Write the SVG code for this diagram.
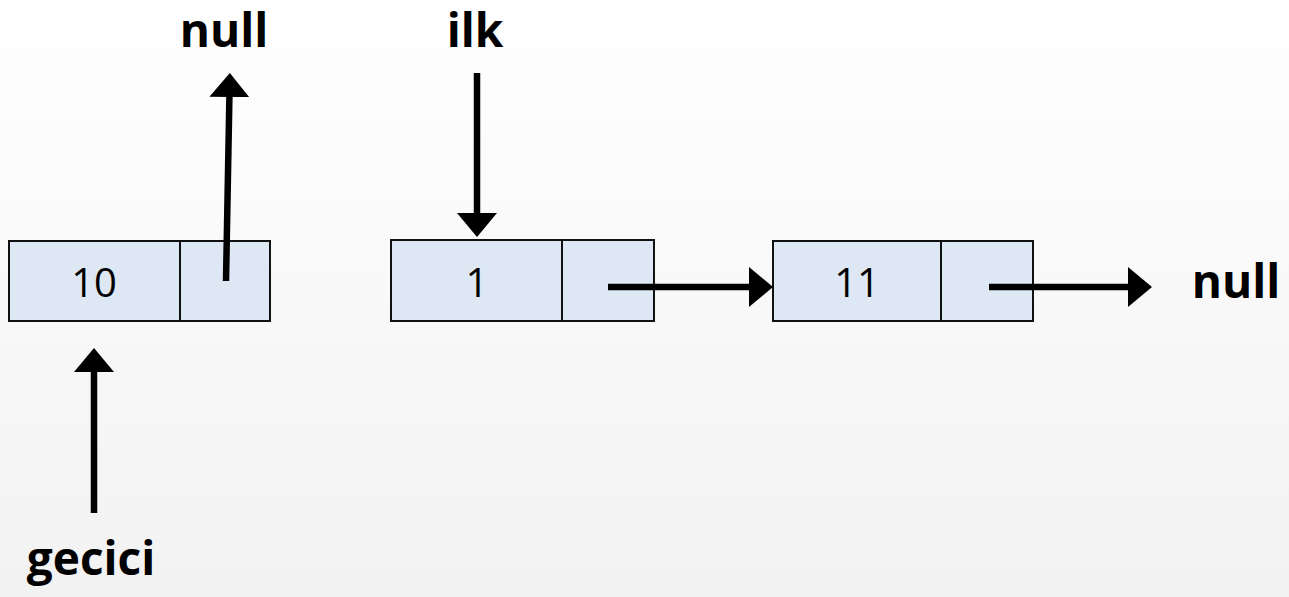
<svg xmlns="http://www.w3.org/2000/svg" width="1289" height="597" viewBox="0 0 1289 597">
<defs>
<linearGradient id="bg" x1="0" y1="0" x2="0" y2="1">
<stop offset="0" stop-color="#ffffff"/>
<stop offset="1" stop-color="#f2f2f2"/>
</linearGradient>
<marker id="ah" viewBox="0 0 24 40" refX="0" refY="20" markerWidth="24" markerHeight="40" markerUnits="userSpaceOnUse" orient="auto">
<path d="M0,0 L24,20 L0,40 z" fill="#000"/>
</marker>
</defs>
<style>
.cell{fill:#dde8f4;stroke:#111;stroke-width:2}
.val{font-family:"Open Sans","Liberation Sans",sans-serif;font-size:40px;fill:#000;text-anchor:middle}
.lbl{font-family:"Open Sans","Liberation Sans",sans-serif;font-size:46px;font-weight:bold;fill:#000;text-anchor:middle}
.ptr{stroke:#000;stroke-width:6.5;fill:none;marker-end:url(#ah)}
</style>
<rect width="1289" height="597" fill="url(#bg)"/>
<g id="node10">
<rect class="cell" x="9" y="241" width="171" height="80"/>
<rect class="cell" x="180" y="241" width="90" height="80"/>
<text class="val" x="94" y="297">10</text>
</g>
<g id="node1">
<rect class="cell" x="391" y="240" width="171" height="81"/>
<rect class="cell" x="562" y="240" width="92" height="81"/>
<text class="val" x="477" y="297">1</text>
</g>
<g id="node11">
<rect class="cell" x="773" y="241" width="168" height="80"/>
<rect class="cell" x="941" y="241" width="92" height="80"/>
<text class="val" x="857" y="297">11</text>
</g>
<g id="label-null-top"><text class="lbl" x="224" y="47">null</text></g>
<g id="label-ilk"><text class="lbl" x="475" y="47">ilk</text></g>
<g id="label-null-right"><text class="lbl" x="1236" y="298">null</text></g>
<g id="label-gecici"><text class="lbl" x="91" y="575">gecici</text></g>
<g id="connectors">
<line class="ptr" x1="226" y1="281" x2="229.4" y2="97"/>
<line class="ptr" x1="477" y1="73" x2="477" y2="213"/>
<line class="ptr" x1="94" y1="513" x2="94" y2="372"/>
<line class="ptr" x1="608" y1="287" x2="749" y2="287"/>
<line class="ptr" x1="989" y1="287" x2="1128" y2="287"/>
</g>
</svg>
